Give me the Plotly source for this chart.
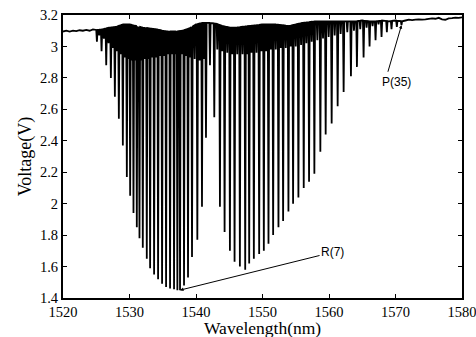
import numpy as np
import plotly.graph_objects as go

# ---------------- data ----------------
# strong R-branch lines: centre wavelength (nm) and dip minimum (V)
r_wl = [1525.1, 1525.8, 1526.5, 1527.2, 1527.8, 1528.4, 1529.0, 1529.6, 1530.1, 1530.6,
        1531.1, 1531.5, 1532.0, 1532.6, 1533.1, 1533.7, 1534.3, 1534.9, 1535.5, 1536.1,
        1536.7, 1537.2, 1537.6, 1538.2, 1538.8, 1539.4, 1540.2, 1540.9, 1541.5]
r_v = [3.03, 2.97, 2.88, 2.80, 2.68, 2.54, 2.37, 2.17, 2.05, 1.94,
       1.85, 1.78, 1.72, 1.65, 1.59, 1.55, 1.52, 1.49, 1.47, 1.46,
       1.455, 1.45, 1.45, 1.48, 1.53, 1.66, 1.77, 1.98, 2.42]

# weak lines interleaved in the R branch
rw_wl = [1525.45, 1526.15, 1526.85, 1527.5, 1528.1, 1528.7, 1529.3, 1529.85, 1530.35, 1530.85,
         1531.3, 1531.75, 1532.3, 1532.85, 1533.4, 1534.0, 1534.6, 1535.2, 1535.8, 1536.4,
         1536.95, 1537.9, 1538.5, 1539.1, 1539.8, 1540.55, 1541.2, 1542.1]
rw_v = [3.07, 3.05, 3.02, 2.99, 2.97, 2.95, 2.93, 2.92, 2.91, 2.91,
        2.91, 2.91, 2.92, 2.92, 2.93, 2.93, 2.94, 2.94, 2.95, 2.95,
        2.95, 2.95, 2.94, 2.93, 2.92, 2.91, 2.92, 2.88]

# strong P-branch lines
p_wl = [1542.75, 1543.6, 1544.3, 1545.1, 1545.8, 1546.6, 1547.4, 1548.0, 1548.7, 1549.5,
        1550.2, 1550.9, 1551.6, 1552.4, 1553.1, 1553.9, 1554.6, 1555.4, 1556.2, 1557.0,
        1557.8, 1558.7, 1559.5, 1560.4, 1561.3, 1562.2, 1563.3, 1564.2, 1565.2, 1566.1,
        1567.0, 1567.9, 1568.7, 1569.4, 1570.2, 1570.9]
p_v = [2.55, 1.98, 1.82, 1.70, 1.63, 1.60, 1.58, 1.62, 1.65, 1.68,
       1.70, 1.745, 1.80, 1.85, 1.89, 1.95, 2.00, 2.04, 2.10, 2.14,
       2.19, 2.33, 2.44, 2.51, 2.62, 2.71, 2.81, 2.87, 2.93, 3.00,
       3.04, 3.06, 3.09, 3.11, 3.125, 3.135]

# weak lines interleaved in the P branch
pw_wl = [1543.2, 1543.95, 1544.7, 1545.45, 1546.2, 1547.0, 1547.7, 1548.35, 1549.1, 1549.85,
         1550.55, 1551.25, 1552.0, 1552.75, 1553.5, 1554.25, 1555.0, 1555.8, 1556.6, 1557.4,
         1558.25, 1559.1, 1559.95, 1560.85, 1561.75, 1562.75, 1563.75, 1564.7, 1565.65, 1566.55,
         1567.45]
pw_v = [2.98, 2.97, 2.96, 2.95, 2.95, 2.95, 2.95, 2.96, 2.96, 2.97,
        2.97, 2.98, 2.98, 2.99, 2.99, 3.00, 3.00, 3.01, 3.02, 3.03,
        3.04, 3.05, 3.06, 3.07, 3.08, 3.09, 3.10, 3.11, 3.12, 3.13,
        3.14]

# baseline (upper envelope) of the trace
base_wl = [1520, 1520.5, 1521, 1521.5, 1522, 1522.5, 1523, 1523.5, 1524, 1524.5,
           1525, 1526, 1527, 1528, 1529, 1530, 1531, 1532, 1533, 1534,
           1535, 1536, 1537, 1538, 1539, 1540, 1541, 1542, 1543, 1544,
           1545, 1546, 1547, 1548, 1549, 1550, 1551, 1552, 1553, 1554,
           1555, 1556, 1557, 1558, 1559, 1560, 1561, 1562, 1563, 1564,
           1565, 1566, 1567, 1568, 1569, 1570, 1571, 1571.5, 1572, 1572.5,
           1573, 1573.5, 1574, 1574.5, 1575, 1575.5, 1576, 1576.5, 1577, 1577.5,
           1578, 1578.5, 1579, 1579.5, 1580]
base_v = [3.095, 3.100, 3.095, 3.100, 3.097, 3.103, 3.100, 3.105, 3.100, 3.108,
          3.105, 3.110, 3.120, 3.125, 3.140, 3.140, 3.130, 3.120, 3.115, 3.110,
          3.100, 3.095, 3.095, 3.100, 3.115, 3.140, 3.150, 3.150, 3.145, 3.130,
          3.120, 3.120, 3.125, 3.130, 3.135, 3.140, 3.140, 3.140, 3.135, 3.130,
          3.140, 3.150, 3.155, 3.160, 3.160, 3.160, 3.160, 3.160, 3.160, 3.160,
          3.165, 3.160, 3.160, 3.165, 3.160, 3.165, 3.160, 3.165, 3.170, 3.168,
          3.170, 3.172, 3.170, 3.172, 3.175, 3.178, 3.176, 3.182, 3.172, 3.170,
          3.178, 3.180, 3.183, 3.182, 3.185]

x_ticks = [1520, 1530, 1540, 1550, 1560, 1570, 1580]
y_ticks = [1.4, 1.6, 1.8, 2.0, 2.2, 2.4, 2.6, 2.8, 3.0, 3.2]
y_tick_text = ["1.4", "1.6", "1.8", "2", "2.2", "2.4", "2.6", "2.8", "3", "3.2"]
x_title = "Wavelength(nm)"
y_title = "Voltage(V)"

# ---------------- build the trace ----------------
hw = 0.1  # half width of each drawn dip (nm)
centres = np.array(r_wl + rw_wl + p_wl + pw_wl)
minima = np.array(r_v + rw_v + p_v + pw_v)

pts = []
for c, m in zip(centres, minima):
    pts.append((c - hw, float(np.interp(c - hw, base_wl, base_v))))
    pts.append((c, m))
    pts.append((c + hw, float(np.interp(c + hw, base_wl, base_v))))
for bx, bv in zip(base_wl, base_v):
    if np.min(np.abs(centres - bx)) > hw + 0.05:
        pts.append((bx, bv))
pts.sort(key=lambda p: p[0])
xs = [p[0] for p in pts]
ys = [p[1] for p in pts]

fig = go.Figure()
fig.add_trace(go.Scatter(x=xs, y=ys, mode="lines",
                         line=dict(color="black", width=1.8, simplify=False),
                         hoverinfo="skip"))

serif = "Liberation Serif, Times New Roman, serif"
sans = "Liberation Sans, Arial, sans-serif"

fig.update_layout(
    width=476, height=337,
    margin=dict(l=63, r=14, t=15, b=39, autoexpand=False),
    paper_bgcolor="white", plot_bgcolor="white",
    showlegend=False,
    font=dict(family=serif, color="black"),
)
fig.update_xaxes(
    range=[1520, 1580], tickvals=x_ticks, ticks="inside", ticklen=4,
    tickwidth=1, tickcolor="black", showline=True, linecolor="black",
    linewidth=2, mirror="ticks", showgrid=False, zeroline=False,
    ticklabeloverflow="allow", automargin=False,
    tickfont=dict(family=serif, size=14.5),
)
fig.update_yaxes(
    range=[1.4, 3.2], tickvals=y_ticks, ticktext=y_tick_text, ticks="inside",
    ticklen=4, tickwidth=1, tickcolor="black", showline=True, linecolor="black",
    linewidth=2, mirror="ticks", showgrid=False, zeroline=False,
    ticklabeloverflow="allow", automargin=False,
    tickfont=dict(family=serif, size=14.5),
    title=dict(text=y_title, font=dict(family=serif, size=18), standoff=4),
)

# x-axis title placed below the tick labels
fig.add_annotation(x=0.5, y=-0.146, xref="paper", yref="paper", text=x_title,
                   showarrow=False, xanchor="center", yanchor="bottom", borderpad=0,
                   font=dict(family=serif, size=17.5, color="black"))

# annotation arrows (tip at the labelled line) and labels
fig.add_annotation(x=r_wl[22], y=r_v[22], xref="x", yref="y", text="",
                   showarrow=True, ax=141, ay=-35, arrowhead=2, arrowsize=0.7,
                   arrowwidth=1, arrowcolor="black")
fig.add_annotation(x=1560.6, y=1.692, xref="x", yref="y", text="R(7)",
                   showarrow=False, font=dict(family=sans, size=12, color="black"))
fig.add_annotation(x=p_wl[-1], y=p_v[-1], xref="x", yref="y", text="",
                   showarrow=True, ax=-14, ay=48, arrowhead=2, arrowsize=0.7,
                   arrowwidth=1, arrowcolor="black")
fig.add_annotation(x=1570.1, y=2.774, xref="x", yref="y", text="P(35)",
                   showarrow=False, font=dict(family=sans, size=12, color="black"))

fig.write_html("out.html")
